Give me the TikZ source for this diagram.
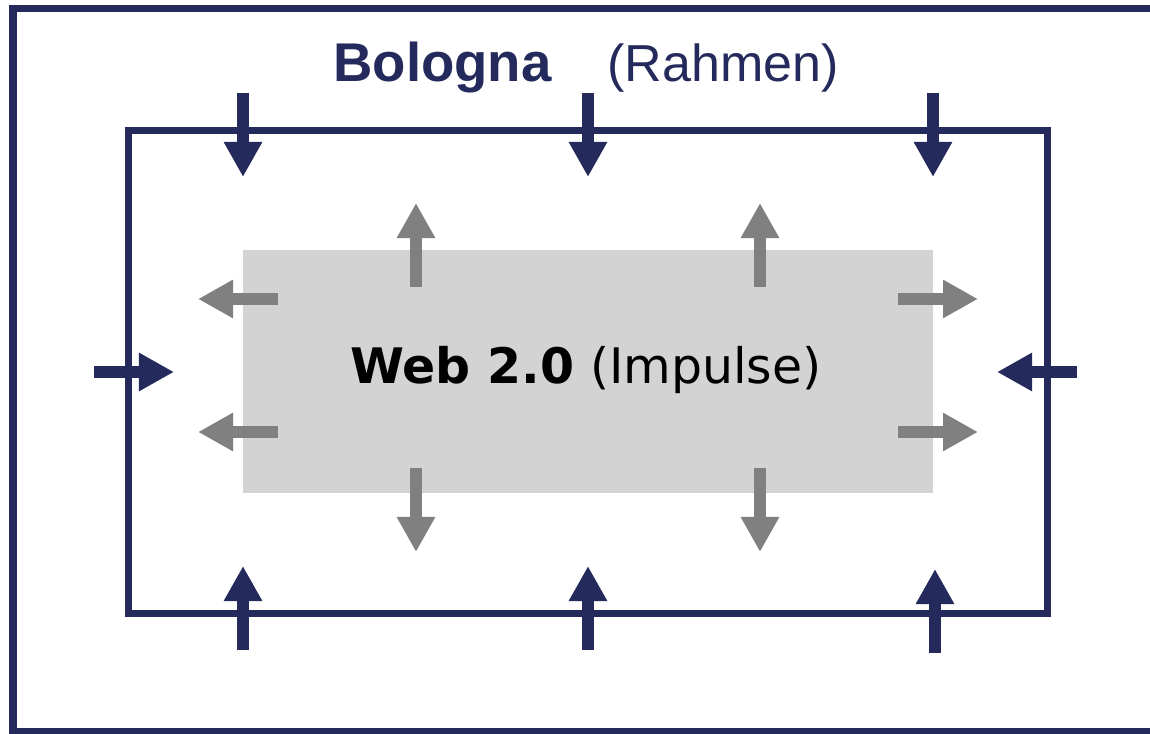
\documentclass[tikz,border=0pt]{standalone}
\usepackage{fontspec}
\setmainfont{Liberation Sans}
\newfontfamily\webfont{DejaVu Sans}
\usepackage{xcolor}
\usepackage{tikz}
\usetikzlibrary{arrows.meta}
\usetikzlibrary{positioning}
\definecolor{navy}{RGB}{36,43,92}
\definecolor{pfeilgrau}{RGB}{128,128,128}
\definecolor{kastengrau}{RGB}{211,211,211}

\begin{document}
\begin{tikzpicture}[x=0.025cm, y=-0.025cm, semithick]
 				 \tikzset{rahmen/.style={draw=navy, line width=0.175cm},
 				          druck/.style={navy, line width=0.3cm, -{Triangle[length=0.875cm, width=0.9cm]}},
 				          impuls/.style={pfeilgrau, line width=0.3cm, -{Triangle[length=0.875cm, width=0.9cm]}}}
 				 \useasboundingbox (0,0) rectangle (1150,734);
 				 \clip (0,0) rectangle (1150,734);
 					 % outer frame (runs off the page right and below)
 					 \draw[rahmen] (13,8.5) rectangle (1170,731);
 					 \node[rahmen, minimum width=22.96cm, minimum height=12.075cm, inner sep=0pt] (R) at (587.75,372) {};
 					 \node[fill=kastengrau, minimum width=17.25cm, minimum height=6.075cm, inner sep=0pt] (W) at (588,371.5) {};
 					 \node[inner sep=0pt, font=\webfont\fontsize{34.8}{42}\selectfont] (WT) at (586,370) {\textbf{Web 2.0} (Impulse)};
 					 \node[anchor=base west, text=navy, inner sep=0pt, font=\fontsize{38.8}{46}\selectfont\bfseries] (B) at (333,82) {Bologna};
 					 \node[anchor=base west, text=navy, inner sep=0pt, font=\fontsize{37}{44}\selectfont] (BR) at (607,82) {(Rahmen)};
 					 % navy arrows pointing in
 					 \foreach \x/\n in {243/1,588/2,933/3} {
 					   \coordinate (o\n) at (\x,93);
 					   \coordinate (o\n t) at (\x,177);
 					   \draw[druck] (o\n) -- (o\n t);
 					 }
 					 \foreach \x/\y/\n in {243/650/1,588/650/2,935/653/3} {
 					   \coordinate (u\n) at (\x,\y);
 					   \coordinate (u\n t) at (\x,\y-84);
 					   \draw[druck] (u\n) -- (u\n t);
 					 }
 					 \coordinate (l) at (94,372);
 					 \coordinate (lt) at (174,372);
 					 \coordinate (r) at (1077,372);
 					 \coordinate (rt) at (997,372);
 					 \draw[druck] (l) -- (lt);
 					 \draw[druck] (r) -- (rt);
 					 % grey arrows pointing out
 					 \foreach \x/\n in {416/1,760/2} {
 					   \coordinate (a\n) at (\x,287);
 					   \coordinate (a\n t) at (\x,203);
 					   \coordinate (b\n) at (\x,468);
 					   \coordinate (b\n t) at (\x,552);
 					   \draw[impuls] (a\n) -- (a\n t);
 					   \draw[impuls] (b\n) -- (b\n t);
 					 }
 					 \foreach \y/\n in {299/1,432/2} {
 					   \coordinate (c\n) at (278,\y);
 					   \coordinate (c\n t) at (198,\y);
 					   \coordinate (d\n) at (898,\y);
 					   \coordinate (d\n t) at (978,\y);
 					   \draw[impuls] (c\n) -- (c\n t);
 					   \draw[impuls] (d\n) -- (d\n t);
 					 }
\end{tikzpicture}
\end{document}
